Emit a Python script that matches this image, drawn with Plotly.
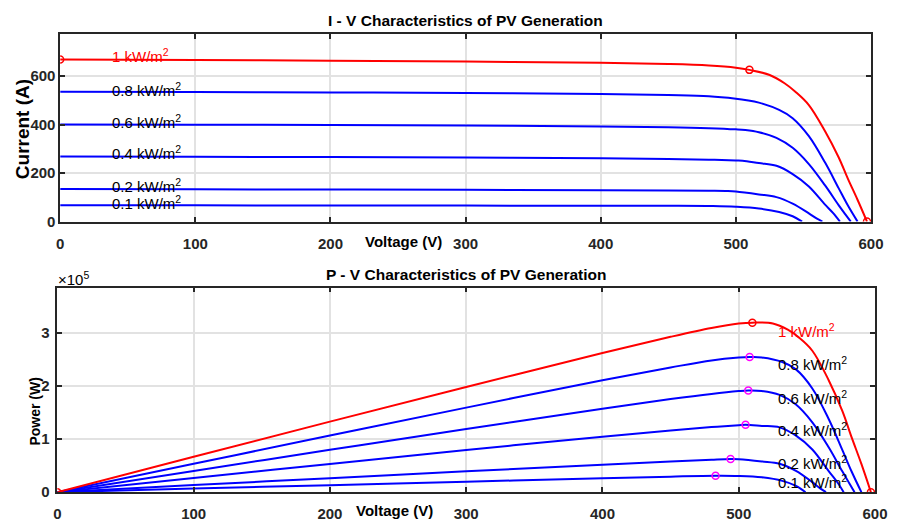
import plotly.graph_objects as go

# ---------------- data ----------------
irradiance_labels = ["1 kW/m<sup>2</sup>", "0.8 kW/m<sup>2</sup>", "0.6 kW/m<sup>2</sup>",
                     "0.4 kW/m<sup>2</sup>", "0.2 kW/m<sup>2</sup>", "0.1 kW/m<sup>2</sup>"]

# I-V samples (voltage in V, current in A)
v_1000 = [0, 100, 200, 300, 400, 450, 480, 500, 510, 525, 536, 544, 554, 566, 576, 583, 590, 597]
i_1000 = [668, 666, 663, 659, 654, 649, 643, 634, 625, 604, 570, 535, 480, 372, 265, 175, 90, 0]
v_800 = [0, 100, 200, 300, 400, 450, 480, 500, 508, 517, 532, 542, 554, 566, 576, 583, 590]
i_800 = [535, 534, 532, 530, 526, 521, 516, 506, 500, 490, 460, 426, 352, 243, 138, 65, 0]
v_600 = [0, 100, 200, 300, 400, 450, 480, 500, 507, 517, 530, 542, 554, 566, 576, 581, 585]
i_600 = [400, 399, 398, 396, 392, 389, 385, 380, 377, 368, 345, 304, 237, 149, 68, 30, 0]
v_400 = [0, 100, 200, 300, 400, 450, 480, 500, 505, 517, 530, 542, 554, 566, 572, 577]
i_400 = [268, 267, 266, 264, 261, 258, 255, 252, 251, 241, 230, 196, 145, 70, 35, 0]
v_200 = [0, 100, 200, 300, 400, 450, 480, 494, 500, 517, 530, 542, 554, 560, 564]
i_200 = [134, 133, 132, 131, 129, 128, 127, 126, 124, 112, 101, 74, 34, 12, 0]
v_100 = [0, 100, 200, 300, 400, 450, 483, 500, 517, 532, 542, 549]
i_100 = [67, 67, 66, 66, 65, 65, 64, 61, 54, 40, 22, 0]

# P-V samples (power in W) on the same voltage points
p_1000 = [0, 66600, 132600, 197700, 261600, 292050, 308640, 317000, 318750, 317100, 305520,
          291040, 265920, 210552, 152640, 102025, 53100, 0]
p_800 = [0, 53400, 106400, 159000, 210400, 234450, 247680, 253000, 254000, 253330, 244720,
         230892, 195008, 137538, 79488, 37895, 0]
p_600 = [0, 39900, 79600, 118800, 156800, 175050, 184800, 190000, 191139, 190256, 182850,
         164768, 131298, 84334, 39168, 17430, 0]
p_400 = [0, 26700, 53200, 79200, 104400, 116100, 122400, 126000, 126755, 124597, 121900,
         106232, 80330, 39620, 20020, 0]
p_200 = [0, 13300, 26400, 39300, 51600, 57600, 60960, 62244, 62000, 57904, 53530, 40108,
         18836, 6720, 0]
p_100 = [0, 6700, 13200, 19800, 26000, 29250, 30912, 30500, 27918, 21280, 11924, 0]

# maximum power points of the reduced-irradiance curves
mpp_v = [508, 507, 505, 494, 483]
mpp_p = [254000, 191139, 126755, 62244, 30912]
# marked points on the 1 kW/m2 curve: short circuit, maximum power, open circuit
mark_v = [0, 510, 597]
mark_i = [668, 625, 0]
mark_p = [0, 318750, 0]

# label anchors (left edge)
iv_label_v = 37
iv_label_i = [686, 545, 414, 284, 149, 78]
pv_label_v = 527.5
pv_label_p = [304000, 242000, 177600, 117000, 56000, 21000]

x_ticks = [0, 100, 200, 300, 400, 500, 600]
i_ticks = [0, 200, 400, 600]
p_ticks = [0, 100000, 200000, 300000]
p_ticktext = ["0", "1", "2", "3"]

# ---------------- figure ----------------
W, H = 899, 532
RED, BLUE, MAG = "#ff0000", "#0000ff", "#ff00ff"
FONT = "Liberation Sans, Arial, sans-serif"

fig = go.Figure()

iv_sets = [(v_1000, i_1000, RED), (v_800, i_800, BLUE), (v_600, i_600, BLUE),
           (v_400, i_400, BLUE), (v_200, i_200, BLUE), (v_100, i_100, BLUE)]
pv_sets = [(v_1000, p_1000, RED), (v_800, p_800, BLUE), (v_600, p_600, BLUE),
           (v_400, p_400, BLUE), (v_200, p_200, BLUE), (v_100, p_100, BLUE)]

# draw lower irradiance first so the red curve sits on top
for v, i, c in reversed(iv_sets):
    fig.add_trace(go.Scatter(x=v, y=i, mode="lines", xaxis="x", yaxis="y",
                             line=dict(color=c, width=2, shape="spline", smoothing=1.0),
                             showlegend=False, hoverinfo="skip"))
for v, p, c in reversed(pv_sets):
    fig.add_trace(go.Scatter(x=v, y=p, mode="lines", xaxis="x2", yaxis="y2",
                             line=dict(color=c, width=2, shape="spline", smoothing=1.0),
                             showlegend=False, hoverinfo="skip"))

marker_red = dict(symbol="circle-open", size=7, color=RED, line=dict(width=1.5, color=RED))
fig.add_trace(go.Scatter(x=mark_v, y=mark_i, mode="markers", xaxis="x", yaxis="y",
                         marker=marker_red, showlegend=False, hoverinfo="skip"))
fig.add_trace(go.Scatter(x=mark_v, y=mark_p, mode="markers", xaxis="x2", yaxis="y2",
                         marker=marker_red, showlegend=False, hoverinfo="skip"))
fig.add_trace(go.Scatter(x=mpp_v, y=mpp_p, mode="markers", xaxis="x2", yaxis="y2",
                         marker=dict(symbol="circle-open", size=7, color=MAG,
                                     line=dict(width=1.5, color=MAG)),
                         showlegend=False, hoverinfo="skip"))

tick_font = dict(family=FONT, size=15, color="#262626", weight="bold")
axis_common = dict(showline=True, linecolor="#262626", linewidth=1.5, mirror="ticks",
                   ticks="inside", ticklen=5, tickcolor="#262626", tickwidth=1.5,
                   showgrid=True, gridcolor="#e2e2e2", gridwidth=1.5,
                   zeroline=False, tickfont=tick_font, fixedrange=True)

fig.update_layout(
    width=W, height=H,
    margin=dict(l=0, r=0, t=0, b=0),
    paper_bgcolor="white", plot_bgcolor="white",
    font=dict(family=FONT, size=15, color="#000000"),
    xaxis=dict(domain=[57.25 / W, 883.75 / W], range=[0, 600], tickvals=x_ticks,
               anchor="y", ticklabelstandoff=8, **axis_common),
    yaxis=dict(domain=[1 - 225 / H, 1 - 35 / H], range=[0, 770.8], tickvals=i_ticks,
               anchor="x", **axis_common),
    xaxis2=dict(domain=[54.4 / W, 887.8 / W], range=[0, 600], tickvals=x_ticks,
                anchor="y2", ticklabelstandoff=7, **axis_common),
    yaxis2=dict(domain=[1 - 499.7 / H, 1 - 292 / H], range=[0, 384600], tickvals=p_ticks,
                ticktext=p_ticktext, anchor="x2", ticklabelstandoff=3, **axis_common),
)

# curve labels
for k, txt in enumerate(irradiance_labels):
    col = RED if k == 0 else "#000000"
    fig.add_annotation(x=iv_label_v, y=iv_label_i[k], xref="x", yref="y", text=txt,
                       showarrow=False, xanchor="left", yanchor="middle",
                       font=dict(family=FONT, size=15, color=col))
    fig.add_annotation(x=pv_label_v, y=pv_label_p[k], xref="x2", yref="y2", text=txt,
                       showarrow=False, xanchor="left", yanchor="middle",
                       font=dict(family=FONT, size=15, color=col))


def paper_text(x, y, text, size, bold=True, angle=0, xanchor="center"):
    fig.add_annotation(x=x / W, y=1 - y / H, xref="paper", yref="paper", text=text,
                       showarrow=False, xanchor=xanchor, yanchor="middle", textangle=angle,
                       font=dict(family=FONT, size=size, color="#000000",
                                 weight="bold" if bold else "normal"))


paper_text(470, 21, "I - V Characteristics of PV Generation", 15.5)
paper_text(471, 279, "P - V Characteristics of PV Generation", 15.5)
paper_text(407, 245, "Voltage (V)", 15)
paper_text(398, 518, "Voltage (V)", 15)
paper_text(18.5, 131, "Current (A)", 19, angle=-90)
paper_text(31.5, 418, "Power (W)", 14, angle=-90)
paper_text(53, 283, "\u00d710<sup>5</sup>", 15, bold=False, xanchor="left")

fig.write_html("out.html")
